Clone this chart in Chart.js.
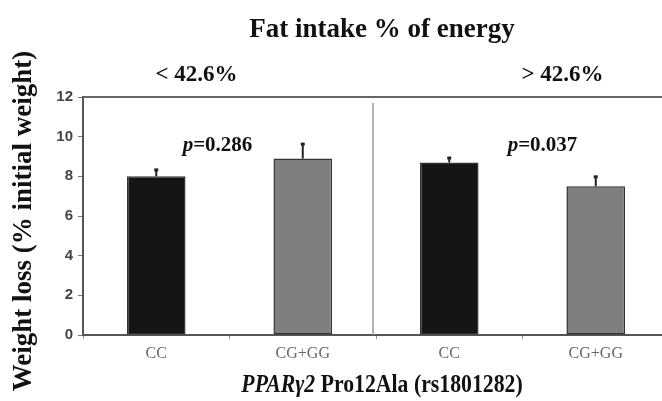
<!DOCTYPE html>
<html>
<head>
<meta charset="utf-8">
<script src="https://cdn.jsdelivr.net/npm/chart.js@4"></script>
<style>
  html, body { margin: 0; padding: 0; background: #fff; overflow: hidden; }
  #wrap { width: 669px; height: 401px; }
</style>
</head>
<body>
<div id="wrap"><canvas id="myChart" width="669" height="401"></canvas></div>
<script>
const myCanvas = document.getElementById("myChart");

// data
const genotypes = ["CC", "CG+GG", "CC", "CG+GG"];
const weightLoss = [8.0, 8.9, 8.7, 7.5];
const errors = [0.35, 0.75, 0.25, 0.5];
const groupLabels = ["< 42.6%", "> 42.6%"];
const pValues = ["=0.286", "=0.037"];
const yTicks = [0, 2, 4, 6, 8, 10, 12];

const barColors = genotypes.map((g) => (g === "CC" ? "#151515" : "#7f7f7f"));

const serif = "'Liberation Serif', 'Times New Roman', serif";

// error bars, box top, divider and all the serif texts
const extras = {
  id: "extras",
  afterDatasetsDraw(chart) {
    const ctx = chart.ctx;
    const x = chart.scales.x;
    const y = chart.scales.y;
    const area = chart.chartArea;

    ctx.save();
    // error bars
    ctx.strokeStyle = "#222";
    ctx.lineWidth = 2;
    weightLoss.forEach((v, i) => {
      const px = x.getPixelForValue(i);
      ctx.beginPath();
      ctx.moveTo(px, y.getPixelForValue(v));
      ctx.lineTo(px, y.getPixelForValue(v + errors[i]));
      ctx.stroke();
      ctx.fillStyle = "#222";
      ctx.fillRect(px - 2, y.getPixelForValue(v + errors[i]) - 1, 4, 3);
    });

    // top border
    ctx.strokeStyle = "#666";
    ctx.lineWidth = 2;
    ctx.beginPath();
    ctx.moveTo(area.left, area.top);
    ctx.lineTo(area.right, area.top);
    ctx.stroke();

    // divider between the two groups
    const mid = (x.getPixelForValue(1) + x.getPixelForValue(2)) / 2 - 3;
    ctx.strokeStyle = "#999";
    ctx.lineWidth = 1.5;
    ctx.beginPath();
    ctx.moveTo(mid, area.top + 6);
    ctx.lineTo(mid, area.bottom);
    ctx.stroke();

    ctx.fillStyle = "#111";
    ctx.textBaseline = "alphabetic";
    ctx.textAlign = "center";

    // title
    ctx.font = "bold 27px " + serif;
    ctx.fillText("Fat intake % of energy", 382, 37);

    const groupCenter = (g) => (x.getPixelForValue(g * 2) + x.getPixelForValue(g * 2 + 1)) / 2;

    // group labels
    const labelShift = [-33, 40];
    ctx.font = "bold 23px " + serif;
    groupLabels.forEach((t, g) => {
      ctx.fillText(t, groupCenter(g) + labelShift[g], 81);
    });

    // p values
    const pShift = [-12, 20];
    pValues.forEach((t, g) => {
      const cx = groupCenter(g) + pShift[g];
      ctx.font = "italic bold 21px " + serif;
      const w1 = ctx.measureText("p").width;
      ctx.font = "bold 21px " + serif;
      const w2 = ctx.measureText(t).width;
      const left = cx - (w1 + w2) / 2;
      ctx.textAlign = "left";
      ctx.font = "italic bold 21px " + serif;
      ctx.fillText("p", left, 151);
      ctx.font = "bold 21px " + serif;
      ctx.fillText(t, left + w1, 151);
      ctx.textAlign = "center";
    });

    // x axis title with italic gene name, a bit condensed like the original
    const part1 = "PPAR\u03B32";
    const part2 = " Pro12Ala (rs1801282)";
    ctx.font = "italic bold 25px " + serif;
    const a = ctx.measureText(part1).width;
    ctx.font = "bold 25px " + serif;
    const b = ctx.measureText(part2).width;
    ctx.save();
    ctx.translate(382, 392);
    ctx.scale(0.87, 1);
    const start = -(a + b) / 2;
    ctx.textAlign = "left";
    ctx.font = "italic bold 25px " + serif;
    ctx.fillText(part1, start, 0);
    ctx.font = "bold 25px " + serif;
    ctx.fillText(part2, start + a, 0);
    ctx.restore();

    // y axis title
    ctx.translate(31, 221);
    ctx.rotate(-Math.PI / 2);
    ctx.textAlign = "center";
    ctx.font = "bold 27px " + serif;
    ctx.fillText("Weight loss (% initial weight)", 0, 0);
    ctx.restore();
  }
};

const weightChart = new Chart(myCanvas, {
  type: "bar",
  data: {
    labels: genotypes,
    datasets: [
      {
        label: "Weight loss",
        data: weightLoss,
        backgroundColor: barColors,
        borderColor: "#333",
        borderWidth: 1.5,
        borderSkipped: false,
        barPercentage: 0.4,
        categoryPercentage: 1
      }
    ]
  },
  options: {
    responsive: false,
    animation: false,
    layout: { padding: { top: 97, left: 0, right: 0, bottom: 0 } },
    plugins: {
      legend: { display: false },
      tooltip: { enabled: false }
    },
    scales: {
      x: {
        offset: true,
        grid: {
          offset: true,
          drawOnChartArea: false,
          color: "#999",
          tickLength: 4
        },
        border: { color: "#555", width: 2 },
        ticks: {
          color: "#666",
          font: { family: serif, size: 16 },
          padding: 5
        },
        afterFit(scale) {
          scale.height = 66;
        }
      },
      y: {
        min: 0,
        max: 12,
        afterBuildTicks(scale) {
          scale.ticks = yTicks.map((v) => ({ value: v }));
        },
        grid: {
          drawOnChartArea: false,
          color: "#777",
          tickLength: 5
        },
        border: { color: "#555", width: 2 },
        ticks: {
          color: "#444",
          font: { family: "'Liberation Sans', Arial, sans-serif", size: 15, weight: "bold" },
          padding: 5
        },
        afterFit(scale) {
          scale.width = 83;
        }
      }
    }
  },
  plugins: [extras]
});
</script>
</body>
</html>
